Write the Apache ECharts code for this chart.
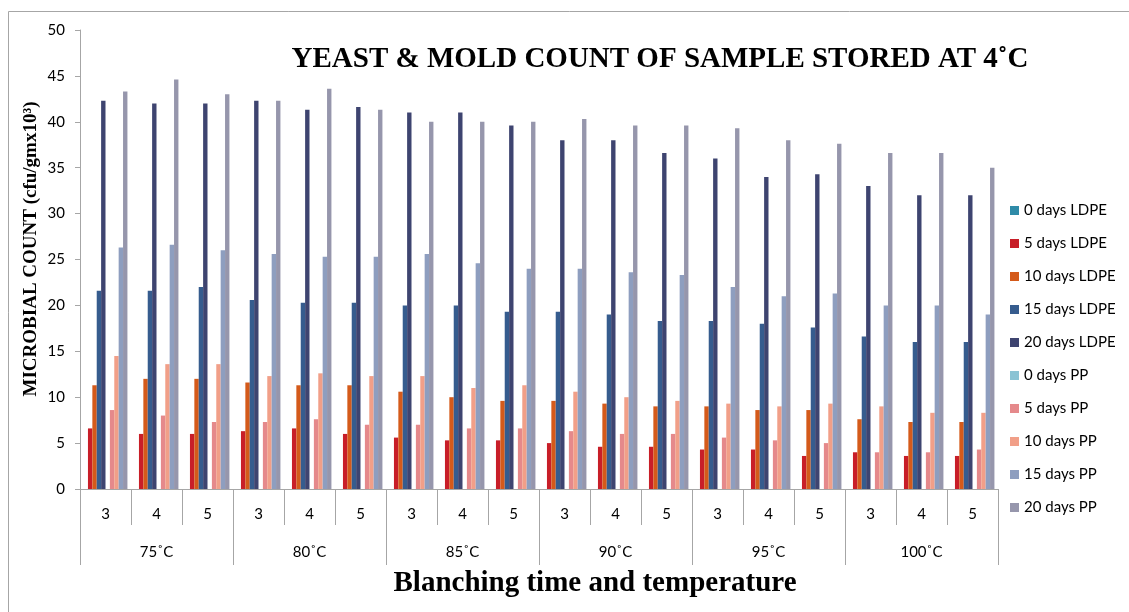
<!DOCTYPE html>
<html>
<head>
<meta charset="utf-8">
<title>Yeast & Mold count</title>
<script src="https://cdn.jsdelivr.net/npm/echarts@6/dist/echarts.min.js"></script>
<style>
  html, body { margin: 0; padding: 0; background: #fff; }
  #main { width: 1129px; height: 612px; }
</style>
</head>
<body>
<div id="main"></div>
<script>
// blanching time (min) for each bar group, and temperature groups
var times = ['3', '4', '5', '3', '4', '5', '3', '4', '5', '3', '4', '5', '3', '4', '5', '3', '4', '5'];
var temps = ['75˚C', '80˚C', '85˚C', '90˚C', '95˚C', '100˚C'];
var yTicks = [0, 5, 10, 15, 20, 25, 30, 35, 40, 45, 50];

var ldpe0 = [0, 0, 0, 0, 0, 0, 0, 0, 0, 0, 0, 0, 0, 0, 0, 0, 0, 0];
var ldpe5 = [6.6, 6.0, 6.0, 6.3, 6.6, 6.0, 5.6, 5.3, 5.3, 5.0, 4.6, 4.6, 4.3, 4.3, 3.6, 4.0, 3.6, 3.6];
var ldpe10 = [11.3, 12.0, 12.0, 11.6, 11.3, 11.3, 10.6, 10.0, 9.6, 9.6, 9.3, 9.0, 9.0, 8.6, 8.6, 7.6, 7.3, 7.3];
var ldpe15 = [21.6, 21.6, 22.0, 20.6, 20.3, 20.3, 20.0, 20.0, 19.3, 19.3, 19.0, 18.3, 18.3, 18.0, 17.6, 16.6, 16.0, 16.0];
var ldpe20 = [42.3, 42.0, 42.0, 42.3, 41.3, 41.6, 41.0, 41.0, 39.6, 38.0, 38.0, 36.6, 36.0, 34.0, 34.3, 33.0, 32.0, 32.0];
var pp0 = [0, 0, 0, 0, 0, 0, 0, 0, 0, 0, 0, 0, 0, 0, 0, 0, 0, 0];
var pp5 = [8.6, 8.0, 7.3, 7.3, 7.6, 7.0, 7.0, 6.6, 6.6, 6.3, 6.0, 6.0, 5.6, 5.3, 5.0, 4.0, 4.0, 4.3];
var pp10 = [14.5, 13.6, 13.6, 12.3, 12.6, 12.3, 12.3, 11.0, 11.3, 10.6, 10.0, 9.6, 9.3, 9.0, 9.3, 9.0, 8.3, 8.3];
var pp15 = [26.3, 26.6, 26.0, 25.6, 25.3, 25.3, 25.6, 24.6, 24.0, 24.0, 23.6, 23.3, 22.0, 21.0, 21.3, 20.0, 20.0, 19.0];
var pp20 = [43.3, 44.6, 43.0, 42.3, 43.6, 41.3, 40.0, 40.0, 40.0, 40.3, 39.6, 39.6, 39.3, 38.0, 37.6, 36.6, 36.6, 35.0];

var seriesNames = ['0 days LDPE', '5 days LDPE', '10 days LDPE', '15 days LDPE', '20 days LDPE',
  '0 days PP', '5 days PP', '10 days PP', '15 days PP', '20 days PP'];
var seriesData = [ldpe0, ldpe5, ldpe10, ldpe15, ldpe20, pp0, pp5, pp10, pp15, pp20];
var colors = ['#2f8ba8', '#c81e28', '#d45a1a', '#365c8e', '#3e4470',
  '#8bc3d4', '#e5898b', '#f19f88', '#8e9ebf', '#9696ac'];

var myChart = echarts.init(document.getElementById('main'));

var axisGrey = '#a6a6a6';
var sansFont = 'Lato, "Open Sans", sans-serif';
var serifFont = '"Liberation Serif", "DejaVu Serif", serif';

var series = seriesNames.map(function (name, i) {
  return {
    name: name,
    type: 'bar',
    xAxisIndex: 0,
    data: seriesData[i],
    barGap: '0%',
    barCategoryGap: '14%',
    itemStyle: { color: colors[i] }
  };
});

var option = {
  backgroundColor: '#fff',
  animation: false,
  color: colors,
  grid: { left: 80, right: 131, top: 30, bottom: 123 },
  graphic: [
    {
      type: 'rect',
      shape: { x: 8.5, y: 11.5, width: 1300, height: 800 },
      style: { fill: 'none', stroke: axisGrey, lineWidth: 1 },
      silent: true
    },
    {
      type: 'text',
      style: {
        text: 'YEAST & MOLD COUNT OF SAMPLE STORED AT 4˚C',
        x: 660, y: 60,
        align: 'center', verticalAlign: 'middle',
        font: 'bold 29px ' + serifFont,
        fill: '#000'
      }
    },
    {
      type: 'text',
      style: {
        text: 'Blanching time and temperature',
        x: 595, y: 584,
        align: 'center', verticalAlign: 'middle',
        font: 'bold 29px ' + serifFont,
        fill: '#000'
      }
    },
    {
      type: 'text',
      x: 31, y: 249,
      rotation: Math.PI / 2,
      style: {
        text: 'MICROBIAL COUNT (cfu/gmx10³)',
        x: 0, y: 0,
        align: 'center', verticalAlign: 'middle',
        font: 'bold 19px ' + serifFont,
        fill: '#000'
      }
    }
  ],
  legend: {
    orient: 'vertical',
    left: 1010,
    top: 203,
    padding: 0,
    itemWidth: 9,
    itemHeight: 9,
    itemGap: 18,
    icon: 'rect',
    data: seriesNames,
    textStyle: { fontFamily: sansFont, fontSize: 15, color: '#000', lineHeight: 14 }
  },
  xAxis: [
    {
      type: 'category',
      data: times,
      position: 'bottom',
      axisLine: { show: true, lineStyle: { color: axisGrey, width: 1 } },
      axisTick: { show: true, length: 36, interval: 0, lineStyle: { color: axisGrey } },
      axisLabel: { interval: 0, margin: 18, fontFamily: sansFont, fontSize: 15, color: '#000' }
    },
    {
      type: 'category',
      data: temps,
      position: 'bottom',
      axisLine: { show: false },
      axisTick: { show: true, length: 76, interval: 0, lineStyle: { color: axisGrey } },
      axisLabel: { interval: 0, margin: 56, fontFamily: sansFont, fontSize: 15, color: '#000' }
    }
  ],
  yAxis: {
    type: 'value',
    min: yTicks[0],
    max: yTicks[yTicks.length - 1],
    interval: yTicks[1] - yTicks[0],
    splitLine: { show: false },
    axisLine: { show: true, lineStyle: { color: axisGrey, width: 1 } },
    axisTick: { show: true, length: 5, lineStyle: { color: axisGrey } },
    axisLabel: { margin: 15, fontFamily: sansFont, fontSize: 15, color: '#000' }
  },
  series: series
};

myChart.setOption(option);
</script>
</body>
</html>
